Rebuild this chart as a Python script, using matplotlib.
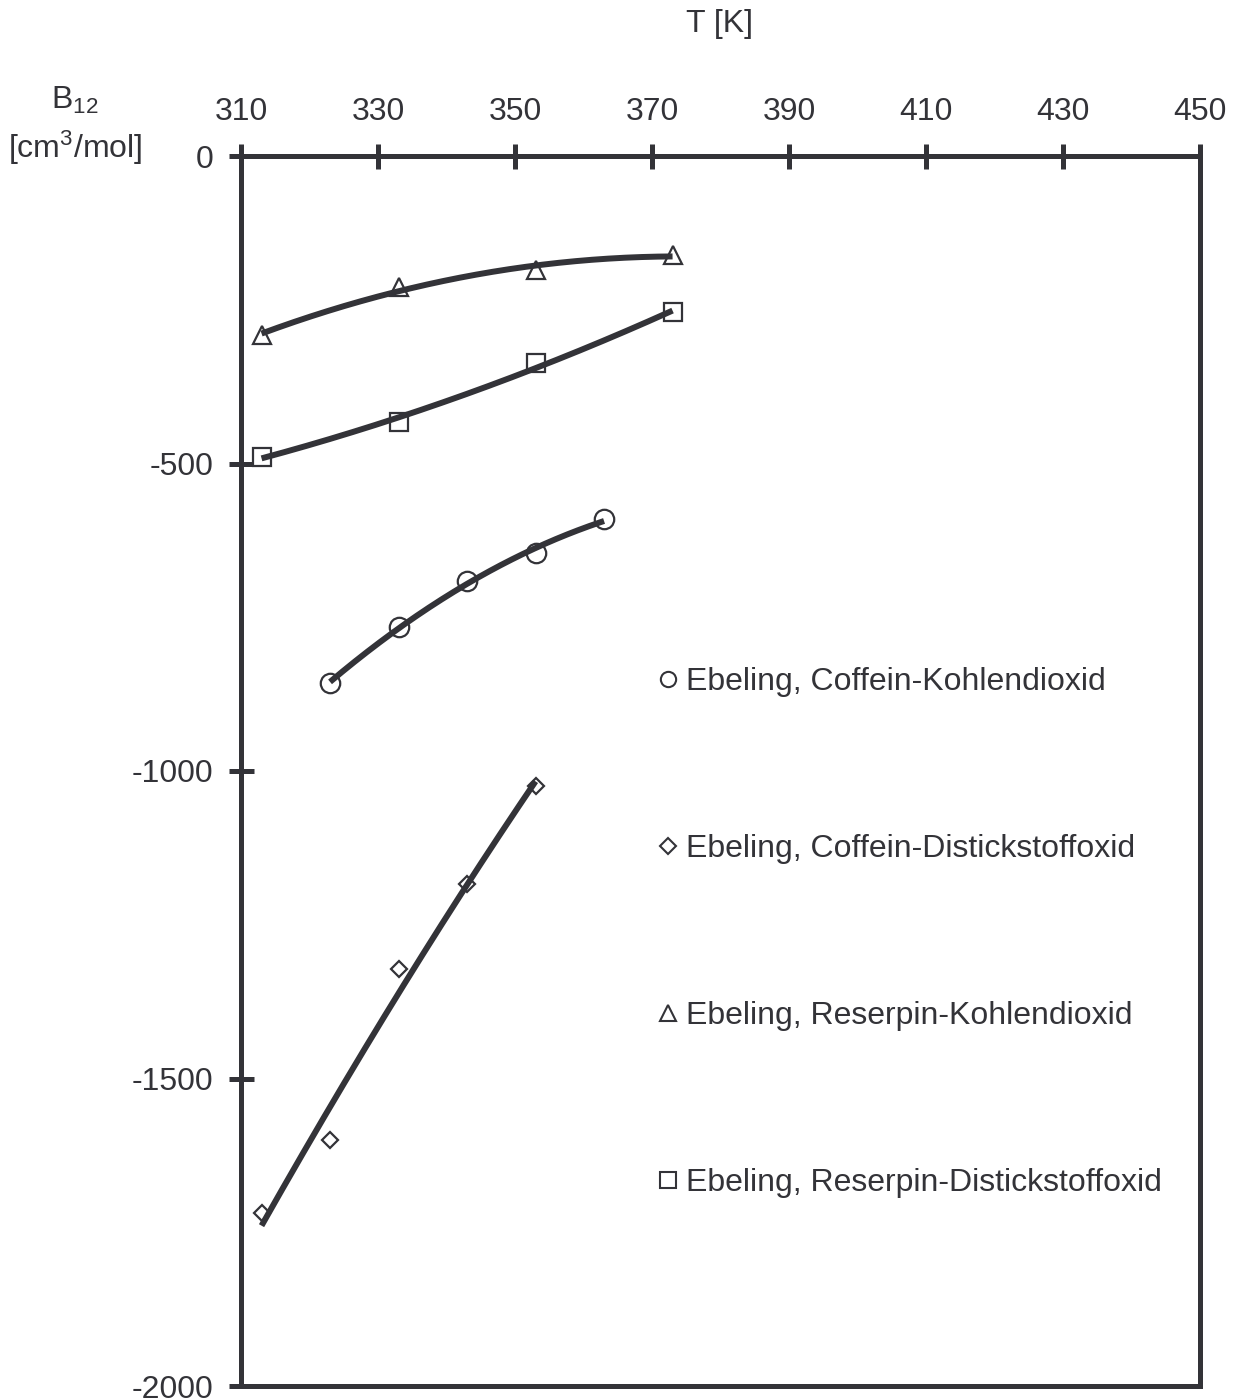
import numpy as np
import matplotlib
matplotlib.use("Agg")
import matplotlib.pyplot as plt
from matplotlib.lines import Line2D

plt.rcParams['font.family'] = ['Liberation Sans', 'DejaVu Sans']
plt.rcParams['mathtext.fontset'] = 'custom'
plt.rcParams['mathtext.rm'] = 'Liberation Sans'
plt.rcParams['mathtext.it'] = 'Liberation Sans:italic'
plt.rcParams['mathtext.default'] = 'regular'
plt.rcParams['axes.unicode_minus'] = False

INK = "#333338"
FS = 23

# Zweite Virialkoeffizienten B12 [cm3/mol] nach Ebeling
t_coff_co2 = [323, 333, 343, 353, 363]
b_coff_co2 = [-857, -766, -691, -646, -590]

t_coff_n2o = [313, 323, 333, 343, 353]
b_coff_n2o = [-1719, -1600, -1322, -1184, -1024]

t_res_co2 = [313, 333, 353, 373]
b_res_co2 = [-291, -213, -185, -161]

t_res_n2o = [313, 333, 353, 373]
b_res_n2o = [-489, -433, -337, -254]

labels = [
    "Ebeling, Coffein-Kohlendioxid",
    "Ebeling, Coffein-Distickstoffoxid",
    "Ebeling, Reserpin-Kohlendioxid",
    "Ebeling, Reserpin-Distickstoffoxid",
]

x_ticks = [310, 330, 350, 370, 390, 410, 430, 450]
y_ticks = [0, -500, -1000, -1500, -2000]

series = [
    (t_coff_co2, b_coff_co2, "o", 14),
    (t_coff_n2o, b_coff_n2o, "D", 8.5),
    (t_res_co2, b_res_co2, "^", 13),
    (t_res_n2o, b_res_n2o, "s", 12.5),
]

fig = plt.figure(figsize=(12.38, 14), dpi=100)
ax = fig.add_axes([241 / 1238, 14 / 1400, 959 / 1238, 1230 / 1400])

for t, b, m, ms in series:
    ax.plot(t, b, linestyle="none", marker=m, markersize=ms,
            markerfacecolor="white", markeredgecolor=INK, markeredgewidth=1.6,
            zorder=2)
    # Polynom-Trendlinie 2. Ordnung
    coef = np.polyfit(t, b, 2)
    tt = np.linspace(min(t), max(t), 200)
    ax.plot(tt, np.polyval(coef, tt), color=INK, linewidth=4.3,
            solid_capstyle="butt", zorder=3)

ax.set_xlim(310, 450)
ax.set_ylim(-2000, 0)
ax.set_xticks(x_ticks)
ax.set_yticks(y_ticks)
ax.xaxis.tick_top()
ax.xaxis.set_label_position("top")
ax.tick_params(axis="both", direction="inout", length=18, width=3.6,
               color=INK, labelcolor=INK, labelsize=FS)
ax.tick_params(axis="x", pad=12)
ax.tick_params(axis="y", pad=11)
for s in ax.spines.values():
    s.set_linewidth(3.6)
    s.set_color(INK)

fig.text(720 / 1238, 1 - 24 / 1400, "T [K]", ha="center", va="center",
         fontsize=FS, color=INK)
fig.text(75 / 1238, 1 - 100 / 1400, "B$_{12}$", ha="center", va="center",
         fontsize=FS, color=INK)
fig.text(75 / 1238, 1 - 148 / 1400, "[cm$^{3}$/mol]", ha="center", va="center",
         fontsize=FS, color=INK)

handles = [
    Line2D([], [], linestyle="none", marker="o", markersize=11,
           markerfacecolor="white", markeredgecolor=INK, markeredgewidth=1.5),
    Line2D([], [], linestyle="none", marker="D", markersize=8,
           markerfacecolor="white", markeredgecolor=INK, markeredgewidth=1.5),
    Line2D([], [], linestyle="none", marker="^", markersize=11.5,
           markerfacecolor="white", markeredgecolor=INK, markeredgewidth=1.5),
    Line2D([], [], linestyle="none", marker="s", markersize=11,
           markerfacecolor="white", markeredgecolor=INK, markeredgewidth=1.5),
]
leg = ax.legend(handles, labels, loc="upper left",
                bbox_to_anchor=((658 - 241) / 959, (1386 - 667) / 1230),
                frameon=False, fontsize=FS, labelspacing=4.29,
                handlelength=0.63, handletextpad=0.25, borderpad=0,
                borderaxespad=0)
for txt in leg.get_texts():
    txt.set_color(INK)

fig.savefig("out.png", dpi=100)
